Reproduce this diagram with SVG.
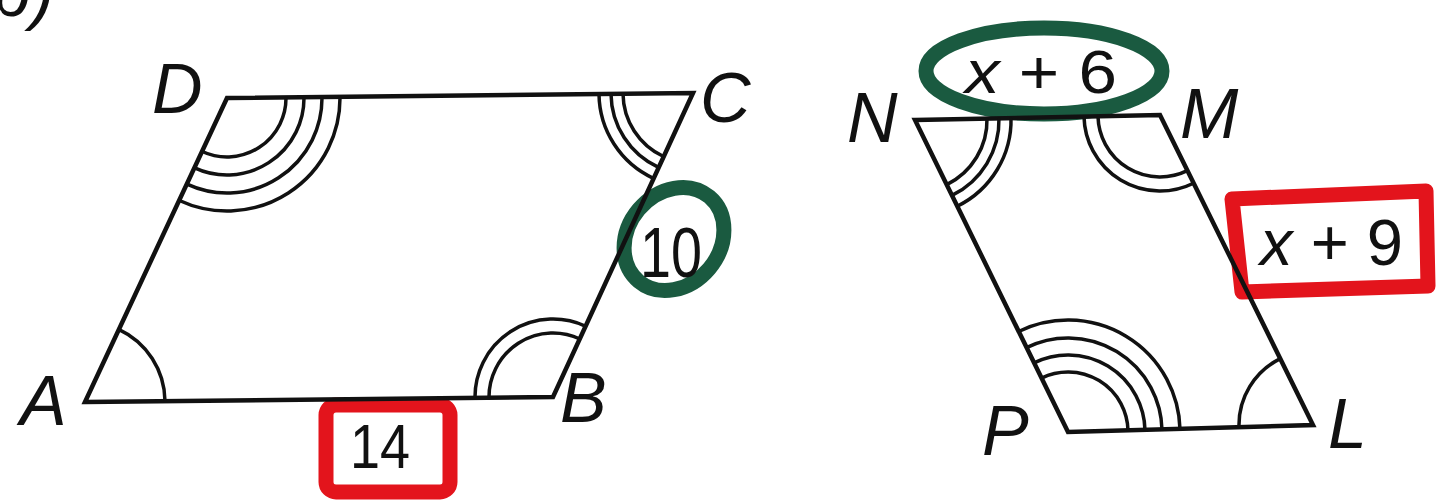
<svg xmlns="http://www.w3.org/2000/svg" width="1442" height="502" viewBox="0 0 1442 502">
<style>
.edge{fill:none;stroke:#111;stroke-width:4.5;stroke-linejoin:miter}
.arc{fill:none;stroke:#111;stroke-width:3.5}
.lbl{font-family:"Liberation Sans",Arial,sans-serif;font-style:italic;font-size:70px;fill:#111}
.num{font-family:"Liberation Sans",Arial,sans-serif;fill:#111}
.red{fill:none;stroke:#e3141c;stroke-width:15;stroke-linejoin:round}
.green{fill:none;stroke:#1a5a40;stroke-width:15}
</style>
<rect width="1442" height="502" fill="#fff"/>
<text class="lbl" x="-8" y="16">b)</text>

<g id="annot-10">
<ellipse class="green" cx="674" cy="239" rx="55" ry="46" transform="rotate(-50 674 239)"/>
<text class="num" x="640" y="277" font-size="70" textLength="62" lengthAdjust="spacingAndGlyphs">10</text>
</g>
<g id="annot-14">
<rect class="red" x="326" y="405" width="124" height="87" rx="10"/>
<text class="num" x="350" y="468" font-size="63" textLength="60" lengthAdjust="spacingAndGlyphs">14</text>
</g>
<g id="annot-x6">
<ellipse class="green" cx="1044" cy="71" rx="118" ry="43"/>
<text class="num" x="965" y="93" font-size="61" textLength="152" lengthAdjust="spacingAndGlyphs"><tspan font-style="italic">x</tspan> + 6</text>
</g>
<g id="annot-x9">
<path class="red" d="M1232,199 L1426,191 L1428,286 L1242,292 Z"/>
<text class="num" x="1260" y="265" font-size="64" textLength="143" lengthAdjust="spacingAndGlyphs"><tspan font-style="italic">x</tspan> + 9</text>
</g>

<g id="ABCD">
<path class="edge" d="M85,402 L553,397 L693,93 L227,98 Z"/>
<path class="arc" d="M165,401.1 A80,80 0 0 0 118.7,329.4"/>
<path class="arc" d="M489,397.7 A64,64 0 0 1 579.9,339"/>
<path class="arc" d="M475,397.8 A78,78 0 0 1 585.8,326.3"/>
<path class="arc" d="M623,93.75 A70,70 0 0 0 663.5,156.5"/>
<path class="arc" d="M611,93.9 A82,82 0 0 0 658.5,167.4"/>
<path class="arc" d="M599,94 A94,94 0 0 0 653.4,178.3"/>
<path class="arc" d="M286,97.4 A59,59 0 0 1 202.2,151.5"/>
<path class="arc" d="M304,97.2 A77,77 0 0 1 194.6,167.8"/>
<path class="arc" d="M322,97 A95,95 0 0 1 187,184.2"/>
<path class="arc" d="M340,96.8 A113,113 0 0 1 179.4,200.5"/>
<text class="lbl" x="20" y="425">A</text>
<text class="lbl" x="560" y="422">B</text>
<text class="lbl" x="700" y="122">C</text>
<text class="lbl" x="152" y="113">D</text>
</g>

<g id="NMLP">
<path class="edge" d="M915,120 L1160,115 L1313,425 L1068,432 Z"/>
<path class="arc" d="M987,118.2 A72,72 0 0 1 946.8,184.6"/>
<path class="arc" d="M999,117.9 A84,84 0 0 1 952,195.4"/>
<path class="arc" d="M1011,117.6 A96,96 0 0 1 957.3,206.2"/>
<path class="arc" d="M1098,116.6 A62,62 0 0 0 1187.3,170.6"/>
<path class="arc" d="M1084,116.9 A76,76 0 0 0 1193.5,183.2"/>
<path class="arc" d="M1128,430.5 A60,60 0 0 0 1041.5,378.1"/>
<path class="arc" d="M1145,430.1 A77,77 0 0 0 1034,362.9"/>
<path class="arc" d="M1162,429.7 A94,94 0 0 0 1026.5,347.6"/>
<path class="arc" d="M1180,429.2 A112,112 0 0 0 1018.6,331.5"/>
<path class="arc" d="M1239,426.9 A74,74 0 0 1 1280.4,358.6"/>
<text class="lbl" x="847" y="142">N</text>
<text class="lbl" x="1180" y="138">M</text>
<text class="lbl" x="1328" y="448">L</text>
<text class="lbl" x="982" y="455">P</text>
</g>
</svg>
